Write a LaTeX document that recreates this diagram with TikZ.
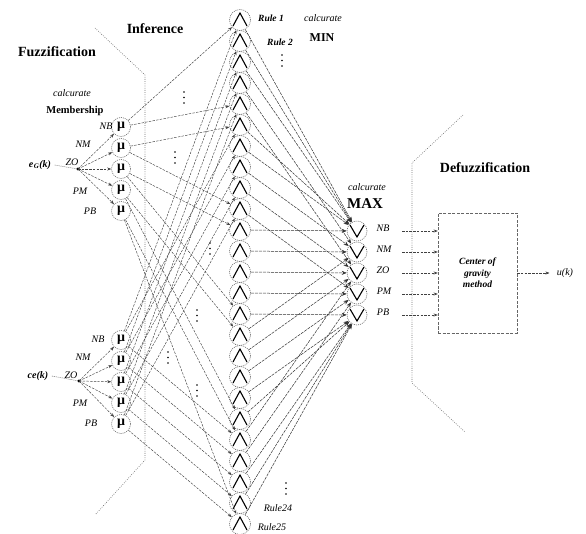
\documentclass[tikz,border=0pt]{standalone}
\usepackage{fontspec}
\setmainfont{Liberation Serif}
\usetikzlibrary{arrows.meta,calc}
\begin{document}
\begin{tikzpicture}[x=1pt,y=-1pt,
  conn/.style={draw=black!75,line width=0.45pt,dash pattern=on 2.5pt off 1.2pt,-{Stealth[length=4pt,width=3pt]}},
  conntwo/.style={draw=black!80,line width=0.5pt,dash pattern=on 3pt off 1pt,-{Stealth[length=5pt,width=4pt]}},
  plainline/.style={draw=black!70,line width=0.45pt,dash pattern=on 1pt off 1pt},
  bnd/.style={draw=black!55,line width=0.6pt,dash pattern=on 0.8pt off 1.4pt},
  mucirc/.style={circle,draw=black!60,dash pattern=on 1pt off 1pt,line width=0.6pt,minimum size=19pt,inner sep=0pt,font=\fontsize{14}{14}\selectfont\bfseries},
  rulecirc/.style={circle,draw=black!60,dash pattern=on 1pt off 1pt,line width=0.6pt,minimum size=21pt,inner sep=0pt},
  caret/.style={draw=black,line width=1.1pt,line join=miter},
  title/.style={font=\fontsize{14}{14}\selectfont\bfseries},
  small/.style={font=\fontsize{10}{10}\selectfont\itshape},
  lab/.style={font=\fontsize{10}{10}\selectfont\itshape},
  dots/.style={fill=black}
]
\useasboundingbox (0,0) rectangle (586,534);

% boundaries
\draw[bnd] (95,28) -- (145,75) -- (145,460) -- (95,515);
\draw[bnd] (463,115) -- (412,163) -- (412,383) -- (465,432);

% titles
\node[title] (tfuz) at (57,52) {Fuzzification};
\node[title] (tinf) at (155,29) {Inference};
\node[title] (tdef) at (485,168) {Defuzzification};
\node[small] (cm1) at (72,93) {calcurate};
\node[font=\fontsize{10.5}{10.5}\selectfont\bfseries] (memb) at (75,111) {Membership};
\node[small] (cm2) at (323,18) {calcurate};
\node[font=\fontsize{12}{12}\selectfont\bfseries] (tmin) at (322,38) {MIN};
\node[small] (cm3) at (367,187) {calcurate};
\node[font=\fontsize{15}{15}\selectfont\bfseries] (tmax) at (365,204) {MAX};

% mu nodes
\foreach \k in {0,...,4} {
  \node[mucirc] (e\k) at (121,{127+21*\k}) {μ};
  \node[mucirc] (c\k) at (121,{340+21*\k}) {μ};
}

% rule nodes
\foreach \i in {1,...,25} {
  \node[rulecirc] (r\i) at (240,{20+21*(\i-1)}) {};
  \draw[caret] ($(r\i.center)+(-7,6)$) -- ($(r\i.center)+(0,-7)$) -- ($(r\i.center)+(7,6)$);
}

% max nodes
\foreach \k in {0,...,4} {
  \node[rulecirc,minimum size=20pt] (m\k) at (357,{231+21*\k}) {};
  \draw[caret] ($(m\k.center)+(-7,-6)$) -- ($(m\k.center)+(0,6)$) -- ($(m\k.center)+(7,-6)$);
}

% inputs
\node[font=\fontsize{10}{10}\selectfont\bfseries\itshape] (eg) at (40,165) {e\kern0.5pt\textsubscript{G}(k)};
\node[font=\fontsize{10}{10}\selectfont\bfseries\itshape] (ce) at (38,376) {ce(k)};
\coordinate (he) at (78,169);
\coordinate (hc) at (79,381);
\draw[plainline] (eg.east) -- (he);
\draw[plainline] (ce.east) -- (hc);
\fill (he) circle (1.6);
\fill (hc) circle (1.6);
\foreach \k in {0,...,4} {
  \draw[conn] (he) -- (e\k);
  \draw[conn] (hc) -- (c\k);
}
\node[lab] (len0) at (106,126) {NB};
\node[lab] (len1) at (83,144) {NM};
\node[lab] (len2) at (72,162) {ZO};
\node[lab] (len3) at (80,191) {PM};
\node[lab] (len4) at (90,211) {PB};
\node[lab] (lcn0) at (98,339) {NB};
\node[lab] (lcn1) at (83,357) {NM};
\node[lab] (lcn2) at (71,375) {ZO};
\node[lab] (lcn3) at (80,403) {PM};
\node[lab] (lcn4) at (91,423) {PB};

% mu -> rules
\foreach \a in {0,...,4} {
  \pgfmathtruncatemacro\ra{5*\a+1}
  \pgfmathtruncatemacro\rb{5*\a+5}
  \draw[conn] (e\a) -- (r\ra);
  \draw[conn] (e\a) -- (r\rb);
}
\foreach \b in {0,...,4} {
  \pgfmathtruncatemacro\ra{\b+1}
  \pgfmathtruncatemacro\rb{\b+6}
  \pgfmathtruncatemacro\rc{\b+21}
  \draw[conn] (c\b) -- (r\ra);
  \draw[conn] (c\b) -- (r\rb);
  \draw[conn] (c\b) -- (r\rc);
}

% rules -> max
\foreach \a in {0,...,4} {
  \foreach \b in {0,...,4} {
    \pgfmathtruncatemacro\ri{5*\a+\b+1}
    \pgfmathtruncatemacro\o{min(4,max(0,\a+\b-2))}
    \draw[conntwo] (r\ri) -- (m\o);
  }
}

% rule labels
\node[font=\fontsize{9.5}{9.5}\selectfont\bfseries\itshape] (lr1) at (271,18) {Rule 1};
\node[font=\fontsize{9.5}{9.5}\selectfont\bfseries\itshape] (lr2) at (280,42) {Rule 2};
\node[lab] (lr24) at (278,508) {Rule24};
\node[lab] (lr25) at (272,527) {Rule25};

% vertical dots
\foreach \x/\y in {282/55,286/483,184/92,175/152,210/243,197/310,168/352,197/385} {
  \fill[dots] (\x,\y) circle (0.9) ++(0,5.5) circle (0.9) ++(0,5.5) circle (0.9);
}

% max labels and box
\node[lab] (ml0) at (383,228) {NB};
\node[lab] (ml1) at (384,249) {NM};
\node[lab] (ml2) at (383,270) {ZO};
\node[lab] (ml3) at (384,291) {PM};
\node[lab] (ml4) at (383,312) {PB};
\node[draw=black!60,dash pattern=on 3pt off 1.5pt,line width=0.5pt,minimum width=79pt,minimum height=120pt,inner sep=0pt,align=center,font=\fontsize{9.5}{11.5}\selectfont\bfseries\itshape] (box) at (477.5,273) {Center of\\gravity\\method};
\foreach \k in {0,...,4} {
  \coordinate (s\k) at ($(m\k.center)+(45,0)$);
  \draw[conn] (s\k) -- (s\k -| box.west);
}
\node[lab] (uk) at (565,273) {u(k)};
\draw[conn,shorten >=4pt] (box.east) -- (uk.west);
\end{tikzpicture}
\end{document}
